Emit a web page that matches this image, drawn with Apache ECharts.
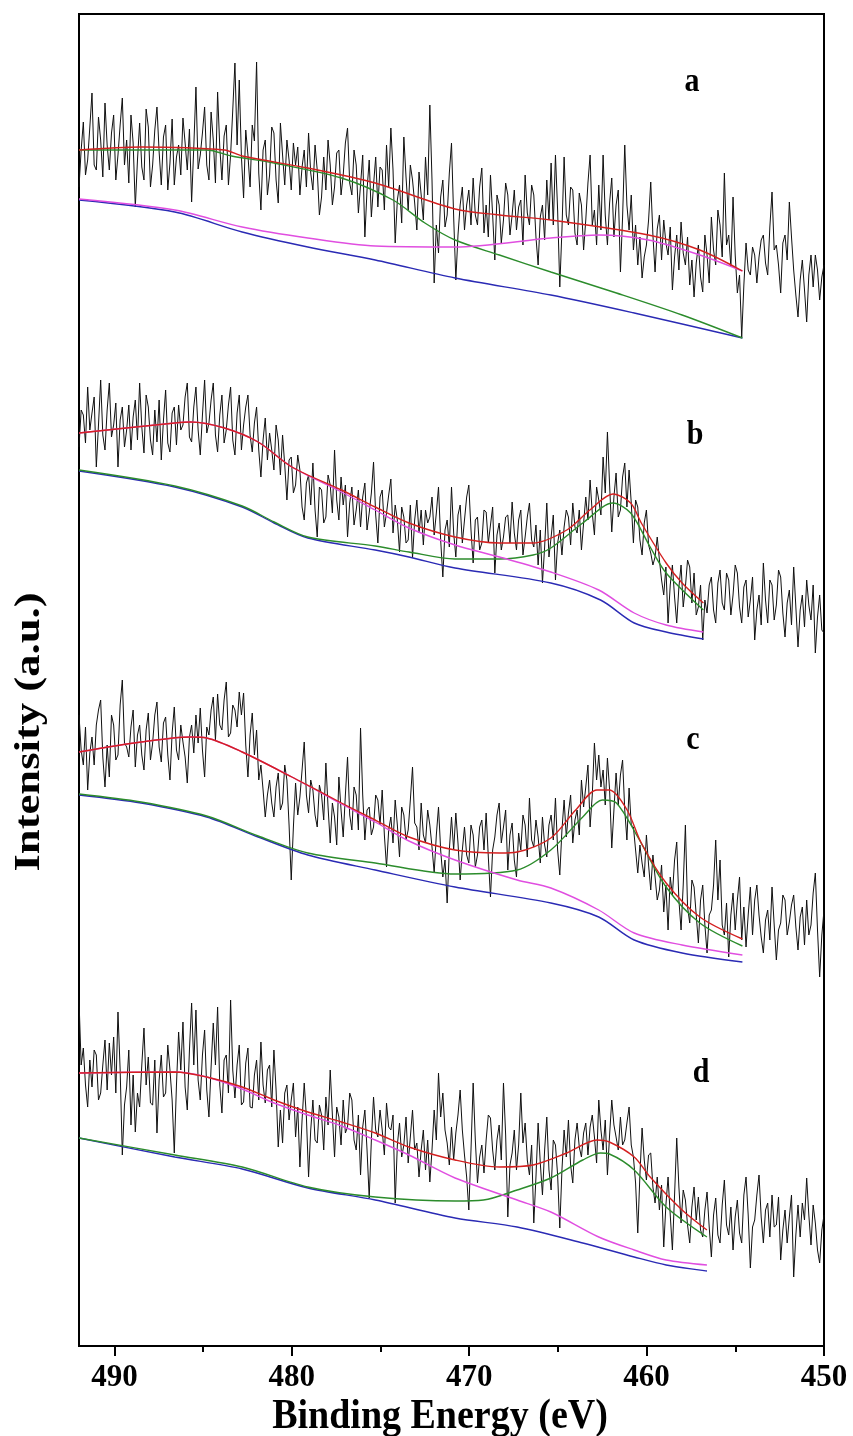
<!DOCTYPE html>
<html><head><meta charset="utf-8">
<script src="https://cdn.jsdelivr.net/npm/echarts@6/dist/echarts.min.js"></script>
<style>html,body{margin:0;padding:0;background:#fff}#c{width:853px;height:1436px}</style>
</head><body><div id="c"></div>
<script>
// binding-energy range of the scan (eV); raw points are evenly spaced across it
const energyStart = 492, energyEnd = 450;
const majorTicks = [450, 460, 470, 480, 490];
const minorTicks = [455, 465, 475, 485];
const panelLabels = ['a', 'b', 'c', 'd'];
const xTitle = 'Binding Energy (eV)';
const yTitle = 'Intensity (a.u.)';

// raw (noisy) intensities, a.u., one per grid energy
const rawA = [1168,1205,1233,1180,1195,1228,1262,1190,1185,1238,1215,1178,1252,1210,1185,1222,1240,1175,1200,1230,
1257,1190,1215,1172,1240,1212,1148,1195,1232,1188,1175,1246,1228,1168,1190,1225,1248,1203,1170,1218,
1230,1165,1192,1236,1170,1198,1210,1180,1237,1212,1185,1226,1153,1208,1268,1186,1200,1222,1248,1190,
1175,1243,1215,1172,1263,1208,1175,1219,1230,1170,1200,1245,1292,1210,1275,1198,1157,1225,1200,1168,
1230,1214,1293,1182,1145,1205,1215,1160,1180,1228,1222,1175,1152,1232,1200,1170,1215,1195,1165,1212,
1190,1208,1160,1188,1205,1168,1222,1182,1165,1210,1185,1140,1158,1198,1165,1215,1190,1150,1168,1202,
1205,1160,1180,1212,1227,1172,1160,1205,1190,1142,1170,1200,1118,1165,1195,1138,1170,1198,1148,1188,
1185,1145,1210,1168,1227,1185,1112,1155,1170,1132,1218,1178,1145,1190,1175,1152,1125,1183,1160,1135,
1198,1160,1250,1175,1072,1130,1102,1158,1175,1128,1140,1182,1212,1138,1075,1120,1150,1168,1125,1150,
1165,1130,1177,1140,1130,1168,1187,1122,1150,1118,1180,1140,1095,1160,1150,1112,1135,1172,1160,1120,
1140,1165,1125,1148,1155,1110,1180,1142,1130,1170,1160,1118,1090,1138,1150,1115,1175,1135,1192,1130,
1200,1145,1068,1125,1198,1140,1130,1168,1165,1122,1110,1162,1150,1105,1135,1172,1200,1130,1145,1110,
1170,1125,1200,1140,1110,1152,1177,1118,1150,1165,1083,1138,1210,1150,1125,1160,1105,1130,1090,1118,
1077,1098,1110,1135,1173,1120,1083,1126,1140,1095,1135,1112,1100,1128,1065,1098,1120,1085,1133,1102,
1090,1118,1070,1095,1058,1092,1110,1078,1063,1120,1100,1072,1138,1105,1090,1145,1130,1098,1182,1110,
1120,1088,1158,1100,1062,1080,1018,1070,1112,1085,1080,1108,1100,1072,1098,1115,1120,1092,1080,1128,
1163,1105,1110,1090,1062,1112,1120,1095,1153,1118,1085,1060,1038,1075,1095,1065,1033,1080,1100,1068,
1100,1085,1055,1078,1090];
const rawB = [908,945,940,912,968,925,942,958,888,930,975,920,905,945,972,918,930,952,888,935,
948,908,925,950,905,938,955,915,972,928,902,960,948,915,900,945,913,955,895,935,
965,912,903,942,948,910,950,925,930,958,972,918,913,948,968,925,900,940,975,922,
932,955,972,920,903,940,960,912,925,950,968,915,900,942,960,905,930,948,960,920,
903,932,948,905,878,915,937,895,922,905,885,930,915,880,920,890,855,895,898,862,
870,900,885,848,835,872,880,850,892,845,818,868,865,832,838,880,870,842,905,855,
835,878,850,870,818,852,868,830,845,865,828,858,872,825,842,862,893,840,812,858,
865,828,842,860,876,822,850,835,803,848,838,812,815,850,797,835,855,822,845,810,
845,832,838,858,820,842,868,815,778,825,835,808,868,822,798,840,850,812,835,858,
870,825,792,835,838,805,812,845,843,812,830,848,782,820,832,805,818,838,840,812,
853,822,805,835,845,800,818,838,852,815,808,830,790,825,772,808,852,798,818,840,
775,812,825,800,828,845,838,810,852,828,822,845,805,832,858,835,875,842,820,868,
855,840,898,862,923,870,823,858,882,838,845,878,892,848,885,852,812,855,848,815,
800,832,845,810,802,790,798,818,795,775,760,788,732,770,790,758,732,768,790,748,
768,795,788,752,782,740,748,770,715,755,742,770,778,745,732,772,785,752,745,782,
775,740,760,790,782,748,732,768,775,738,755,778,715,745,760,730,792,755,732,775,
770,735,750,785,778,742,718,752,765,730,788,748,708,745,760,728,775,750,735,770,
702,738,760,725,722];
const rawC = [640,605,590,628,565,602,618,590,630,645,655,598,568,610,578,640,630,595,600,650,
675,612,608,598,628,645,588,620,630,600,585,625,642,595,612,640,653,608,593,632,
638,600,575,622,648,605,595,630,613,598,572,618,630,602,640,612,647,605,578,628,
620,645,658,615,661,630,625,655,673,618,622,650,645,628,663,640,662,610,578,620,
642,600,625,575,590,565,538,560,575,552,538,568,582,545,552,590,575,530,475,528,
572,540,558,585,613,560,542,575,565,540,528,570,560,535,592,548,512,552,538,510,
578,545,518,560,598,540,525,568,560,525,627,560,515,545,548,520,528,560,555,530,
565,520,488,525,538,512,555,530,498,548,540,515,525,555,588,532,528,505,552,520,
512,545,530,508,482,520,548,505,478,495,452,505,538,505,542,512,475,505,528,500,
492,530,520,488,500,528,535,505,542,498,458,505,518,540,552,512,528,545,485,520,
532,495,478,522,505,540,530,498,557,515,508,535,518,492,538,510,498,530,540,515,
557,505,480,525,555,518,542,560,512,535,545,520,575,548,568,590,528,560,612,575,
600,568,585,550,597,565,507,545,582,550,580,595,545,515,567,530,528,505,482,510,
492,478,520,490,465,500,478,455,465,490,443,470,425,478,460,495,513,455,425,470,
530,448,432,475,468,440,412,455,470,430,402,440,445,470,515,455,495,430,420,452,
398,440,462,425,455,478,415,448,408,440,468,420,455,470,440,418,402,435,445,415,
468,430,395,425,432,460,455,420,433,450,460,428,405,438,448,410,455,420,430,462,
482,425,378,420,445];
const rawD = [355,290,307,270,248,295,268,305,300,255,262,290,315,265,312,280,318,262,343,285,
200,250,268,305,230,280,223,262,248,290,327,270,298,252,250,295,222,275,300,258,
262,310,285,255,202,270,323,285,333,268,245,305,352,290,345,275,255,300,325,265,
238,288,332,290,348,270,242,295,300,262,355,285,257,290,310,250,253,292,307,248,
247,280,295,255,313,270,252,285,290,248,305,265,208,245,212,262,270,235,255,272,
218,248,188,235,272,238,178,225,255,215,212,250,240,205,258,230,285,240,198,248,
238,210,255,222,228,262,255,215,205,240,180,228,245,205,157,215,258,225,218,245,
225,200,252,228,225,240,152,210,232,198,210,238,192,218,245,205,212,178,205,225,
185,215,173,205,245,215,282,238,262,225,212,190,228,195,222,240,265,225,200,178,
145,205,272,215,172,198,210,182,215,240,237,205,185,215,230,195,272,220,138,190,
202,225,185,210,262,212,232,195,180,210,132,178,232,192,160,205,238,185,165,215,
210,180,127,185,225,198,235,190,172,215,232,208,198,222,232,200,228,240,218,192,
255,225,205,235,180,220,255,230,218,205,238,210,215,232,248,210,198,172,122,180,
227,195,175,200,202,168,152,178,145,170,108,150,178,140,105,160,217,168,132,165,
155,130,112,148,168,135,158,125,118,145,163,128,98,140,157,120,112,150,175,130,
120,148,105,138,155,122,112,160,178,140,87,128,135,160,180,138,112,145,152,118,
160,128,130,158,95,125,145,112,138,160,78,120,150,118,152,135,177,140,110,150,
132,105,92,125,140];

// fitted curves: [binding energy, intensity]
const envA = [[492,1205],[488.5,1208],[483.8,1205],[482.8,1199],[479.1,1187],[475.3,1172],[470.8,1146],[468.3,1140],[465.4,1135],[459.9,1120],[457.0,1105],[454.6,1084]];
const hiA  = [[492,1205],[484.8,1205],[483.4,1199],[481.0,1192],[477.2,1177],[474.3,1155],[472.5,1132],[470.8,1115],[468.3,1100],[465.4,1083],[461.7,1062],[458.0,1040],[454.6,1017]];
const loA  = [[492,1156],[486.6,1145],[482.8,1128],[479.1,1117],[475.3,1109],[470.8,1108],[465.4,1117],[462.7,1120],[459.9,1115],[457.0,1100],[454.6,1084]];
const bgA  = [[492,1155],[486.6,1143],[482.8,1123],[479.1,1108],[475.3,1095],[470.8,1077],[465.4,1060],[460.7,1042],[454.6,1017]];

const envB = [[492,922],[486.6,932],[485.7,933],[483.8,927],[481.9,913],[480.0,888],[477.2,865],[475.3,848],[473.4,832],[470.8,818],[468.3,812],[466.4,812],[464.5,825],[463.2,845],[461.9,861],[460.9,852],[460.3,832],[458.9,792],[458.0,772],[456.8,752]];
const loB  = [[492,885],[486.6,869],[482.8,849],[481.0,833],[479.1,818],[475.3,809],[473.4,803],[470.8,796],[468.3,796],[466.4,800],[465.4,807],[463.6,832],[461.9,852],[460.9,842],[459.8,808],[458.9,782],[456.8,745]];
const hiB  = [[492,922],[486.6,932],[485.7,933],[483.8,927],[481.9,913],[480.0,888],[477.2,863],[475.3,845],[473.4,827],[470.8,810],[468.3,798],[465.4,783],[462.7,765],[460.7,742],[458.9,730],[456.8,723]];
const bgB  = [[492,884],[486.6,868],[482.8,848],[481.0,832],[479.1,817],[475.3,805],[473.4,798],[470.8,787],[465.4,772],[462.6,755],[460.7,732],[458.9,723],[456.8,716]];

const envC = [[492,603],[488.5,613],[485.7,618],[484.8,617],[482.8,603],[480.0,578],[477.2,552],[475.3,535],[473.4,518],[470.8,505],[468.3,502],[467.3,503],[465.4,517],[464.0,545],[462.8,565],[462.1,565],[461.1,545],[460.3,512],[458.9,472],[457.0,438],[454.6,416]];
const loC  = [[492,561],[488.5,553],[484.8,539],[481.9,519],[479.1,502],[475.3,492],[470.8,481],[467.3,485],[465.4,505],[463.6,538],[462.5,555],[461.7,552],[460.5,518],[458.9,468],[457.0,432],[454.6,409]];
const hiC  = [[492,603],[488.5,613],[485.7,618],[484.8,617],[482.8,603],[480.0,578],[477.2,551],[475.3,533],[473.4,514],[470.8,495],[467.3,475],[465.4,467],[462.7,445],[460.7,422],[458.0,410],[454.6,400]];
const bgC  = [[492,560],[488.5,552],[484.8,538],[481.9,518],[479.1,500],[475.3,485],[470.8,468],[465.4,452],[462.7,438],[460.7,415],[458.0,402],[454.6,393]];

const envD = [[492,282],[486.6,283],[484.8,278],[482.8,268],[481.0,255],[479.1,243],[477.2,233],[475.3,222],[473.4,208],[470.8,195],[468.3,188],[466.4,190],[464.5,202],[462.8,215],[462.1,213],[460.7,198],[459.8,178],[458.0,145],[456.6,125]];
const loD  = [[492,217],[486.6,200],[482.8,188],[479.1,168],[475.3,158],[470.8,154],[469.2,155],[467.3,165],[465.4,177],[463.6,195],[462.6,202],[462.1,201],[460.7,185],[458.9,148],[456.6,118]];
const hiD  = [[492,282],[486.6,283],[484.8,278],[482.8,266],[481.0,252],[479.1,240],[477.2,229],[475.3,215],[473.4,200],[470.8,177],[467.3,155],[465.4,143],[462.7,118],[460.7,105],[458.9,95],[456.6,90]];
const bgD  = [[492,217],[486.6,198],[482.8,186],[479.1,167],[475.3,155],[470.8,137],[467.3,128],[463.6,112],[460.7,98],[458.9,90],[456.6,84]];

const FONT = '"Liberation Serif","Times New Roman",serif';
const AXIS_Y = 1346;                 // pixel row of the bottom axis
const GRID = {left: 79, right: 29, top: 14, bottom: 1436 - AXIS_Y};
const Y_MIN = 1355 - AXIS_Y, Y_MAX = 1341;

const spectra = [
  {raw: rawA, bg: bgA, green: hiA, magenta: loA, env: envA},
  {raw: rawB, bg: bgB, green: loB, magenta: hiB, env: envB},
  {raw: rawC, bg: bgC, green: loC, magenta: hiC, env: envC},
  {raw: rawD, bg: bgD, green: loD, magenta: hiD, env: envD}
];
const COLORS = {raw: '#101010', bg: '#2a2ab4', green: '#2c8c2c', magenta: '#e04ee0', red: '#d42020'};

const series = [];
spectra.forEach(s => {
  const step = (energyStart - energyEnd) / (s.raw.length - 1);
  series.push({type: 'line', data: s.raw.map((v, i) => [energyStart - i * step, v]),
    symbol: 'none', lineStyle: {color: COLORS.raw, width: 1}, z: 2});
});
spectra.forEach(s => {
  [['bg', COLORS.bg], ['green', COLORS.green], ['magenta', COLORS.magenta], ['env', COLORS.red]]
    .forEach(([key, col], j) => series.push({type: 'line', data: s[key], symbol: 'none', smooth: 0.3,
      lineStyle: {color: col, width: 1.4}, z: 3 + j}));
});

const labelPos = [[692, 82], [695, 435], [693, 740], [701, 1073]];
const graphics = panelLabels.map((t, i) => ({type: 'text', x: labelPos[i][0], y: labelPos[i][1], scaleY: 1.15,
  style: {text: t, font: 'bold 30px ' + FONT, fill: '#000', align: 'center', verticalAlign: 'middle'}}));
graphics.push({type: 'text', x: 30, y: 732, rotation: Math.PI / 2, scaleX: 1.24,
  style: {text: yTitle, font: 'bold 36px ' + FONT, fill: '#000', align: 'center', verticalAlign: 'middle'}});
graphics.push({type: 'text', x: 440, y: 1417, scaleY: 1.12,
  style: {text: xTitle, font: 'bold 38px ' + FONT, fill: '#000', align: 'center', verticalAlign: 'middle'}});

const chart = echarts.init(document.getElementById('c'));
chart.setOption({
  animation: false,
  backgroundColor: '#fff',
  grid: Object.assign({show: true, borderColor: '#000', borderWidth: 2, backgroundColor: 'transparent'}, GRID),
  xAxis: [{
    type: 'value', min: energyEnd, max: energyStart, inverse: true, position: 'bottom',
    axisLine: {show: true, lineStyle: {color: '#000', width: 2}},
    axisTick: {show: true, customValues: majorTicks, length: 10, lineStyle: {color: '#000', width: 2}},
    axisLabel: {customValues: majorTicks, color: '#000', fontFamily: FONT, fontWeight: 'bold', fontSize: 31, margin: 16},
    splitLine: {show: false}
  }, {
    type: 'value', min: energyEnd, max: energyStart, inverse: true, position: 'bottom', offset: 0,
    axisLine: {show: false},
    axisTick: {show: true, customValues: minorTicks, length: 6, lineStyle: {color: '#000', width: 2}},
    axisLabel: {show: false}, splitLine: {show: false}
  }],
  yAxis: {type: 'value', min: Y_MIN, max: Y_MAX, axisLine: {show: false}, axisTick: {show: false},
    axisLabel: {show: false}, splitLine: {show: false}},
  series: series,
  graphic: graphics
});
</script></body></html>
